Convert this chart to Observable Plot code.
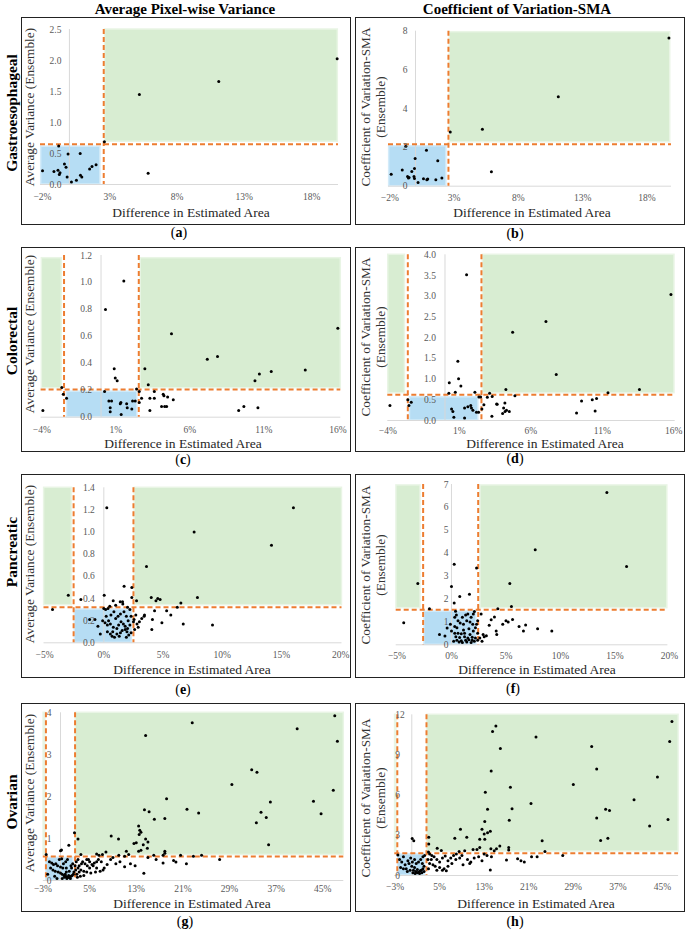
<!DOCTYPE html>
<html><head><meta charset="utf-8">
<script src="https://cdn.jsdelivr.net/npm/d3@7"></script>
<script src="https://cdn.jsdelivr.net/npm/@observablehq/plot@0.6"></script>
<style>
body{margin:0;background:#fff;}
#root{position:relative;width:691px;height:934px;font-family:"Liberation Serif","Times New Roman",serif;color:#000;overflow:hidden;}
.t{position:absolute;white-space:nowrap;transform:translate(-50%,-50%);line-height:1;}
.rot{transform:translate(-50%,-50%) rotate(-90deg);text-align:center;}
.box{position:absolute;border:1.5px solid #222;box-sizing:border-box;pointer-events:none;}
.svgwrap{position:absolute;}
</style></head><body><div id="root"></div>
<script>
// ---- column / row titles ----
const colTitles = ["Average Pixel-wise Variance", "Coefficient of Variation-SMA"];
const rowTitles = ["Gastroesophageal", "Colorectal", "Pancreatic", "Ovarian"];
const yTitleLeft = "Average Variance (Ensemble)";
const yTitleRight = ["Coefficient of Variation-SMA", "(Ensemble)"];
const xTitle = "Difference in Estimated Area";

// ---- tick values ----
const ticksXA = [-2, 3, 8, 13, 18];
const ticksXC = [-4, 1, 6, 11, 16];
const ticksXE = [-5, 0, 5, 10, 15, 20];
const ticksXG = [-3, 5, 13, 21, 29, 37, 45];
const ticksYA = [0, 0.5, 1, 1.5, 2, 2.5];
const ticksYB = [0, 2, 4, 6, 8];
const ticksYC = [0, 0.2, 0.4, 0.6, 0.8, 1.0, 1.2];
const ticksYD = [0, 0.5, 1, 1.5, 2, 2.5, 3, 3.5, 4];
const ticksYE = [0, 0.2, 0.4, 0.6, 0.8, 1.0, 1.2, 1.4];
const ticksYF = [0, 1, 2, 3, 4, 5, 6, 7];
const ticksYG = [0, 1, 2, 3, 4];
const ticksYH = [0, 3, 6, 9, 12];

// ---- thresholds (difference %, uncertainty) ----
const threshA = {x: [2.55], y: 0.65};
const threshB = {x: [2.56], y: 2.17};
const threshC = {x: [-2.5, 2.55], y: 0.205};
const threshD = {x: [-2.6, 2.55], y: 0.62};
const threshE = {x: [-2.55, 2.5], y: 0.32};
const threshF = {x: [-2.6, 2.45], y: 1.53};
const threshG = {x: [-2.5, 2.5], y: 0.57};
const threshH = {x: [-2.6, 2.64], y: 1.66};

// ---- shaded regions [x1, x2, y1, y2] ----
const blueA = [-2.1, 2.3, 0, 0.61];   const greenA = [[2.65, 19.95, 0.69, 2.5]];
const blueB = [-2.05, 2.4, 0, 2.06];  const greenB = [[2.66, 19.8, 2.27, 7.95]];
const blueC = [-2.3, 2.45, 0, 0.19];  const greenC = [[-4.0, -2.65, 0.215, 1.18], [2.67, 16.2, 0.215, 1.18]];
const blueD = [-2.45, 2.33, 0, 0.56]; const greenD = [[-3.97, -2.8, 0.66, 4], [2.65, 16.05, 0.66, 4]];
const blueE = [-2.45, 2.36, 0, 0.30]; const greenE = [[-5.04, -2.7, 0.34, 1.4], [2.6, 20.1, 0.34, 1.4]];
const blueF = [-2.48, 2.27, 0, 1.45]; const greenF = [[-5.05, -2.84, 1.6, 6.96], [2.66, 19.8, 1.6, 6.96]];
const blueG = [-2.45, 2.2, 0, 0.54];  const greenG = [[-2.9, -2.6, 0.61, 4], [2.6, 48.6, 0.61, 4]];
const blueH = [-2.45, 2.35, 0, 1.57]; const greenH = [[-3.0, -2.75, 1.79, 12], [2.76, 47.9, 1.79, 12]];

// ---- data points [difference %, value] ----
const ptsA = [[19.9,2.03],[11.1,1.66],[5.2,1.45],[2.6,0.69],[5.85,0.18],[-0.8,0.62],[-2.0,0.22],[-1.15,0.21],[-0.85,0.23],[-0.7,0.19],[-0.75,0.16],[-0.37,0.33],[-0.25,0.28],[-0.1,0.49],[-0.17,0.12],[0.15,0.04],[0.52,0.07],[0.8,0.50],[0.82,0.15],[0.92,0.12],[1.5,0.25],[1.68,0.29],[1.98,0.32]];
const ptsB = [[19.7,7.65],[11.1,4.62],[5.2,2.94],[2.7,2.80],[5.9,0.74],[-0.75,2.06],[0.85,1.86],[-0.03,1.43],[1.73,1.31],[-1.89,0.62],[-1.03,0.83],[-0.29,0.76],[-0.08,0.91],[-0.62,0.5],[-0.55,0.42],[-0.5,0.45],[-0.12,0.5],[-0.08,0.4],[0.2,0.19],[0.62,0.38],[0.88,0.33],[0.95,0.37],[1.58,0.33],[2.05,0.42]];
const ptsC = [[16.0,0.66],[1.54,1.01],[0.3,0.80],[4.76,0.62],[7.18,0.43],[7.87,0.45],[0.89,0.36],[0.96,0.29],[1.09,0.27],[2.96,0.36],[3.19,0.24],[10.4,0.27],[10.7,0.32],[11.5,0.34],[13.8,0.35],[-2.65,0.22],[-2.55,0.17],[-2.33,0.14],[-3.93,0.05],[0.24,0.19],[0.53,0.12],[0.71,0.12],[0.62,0.07],[0.62,0.04],[1.34,0.11],[1.3,0.10],[1.36,0.02],[1.77,0.07],[1.73,0.10],[2.08,0.06],[2.13,0.12],[2.31,0.12],[2.4,0.21],[2.58,0.19],[2.58,0.11],[2.74,0.14],[3.3,0.14],[3.3,0.05],[3.6,0.19],[3.6,0.14],[4.2,0.17],[4.25,0.16],[4.5,0.15],[4.88,0.13],[4.09,0.08],[4.3,0.08],[4.43,0.08],[9.3,0.05],[9.65,0.08],[10.6,0.07]];
const ptsD = [[15.8,3.04],[1.51,3.52],[7.06,2.39],[4.73,2.13],[7.78,1.11],[0.9,1.43],[0.95,1.01],[0.3,0.91],[1.11,0.83],[0.72,0.68],[0.27,0.66],[2.09,0.68],[3.12,0.66],[4.26,0.75],[11.4,0.67],[13.6,0.75],[2.37,0.57],[2.49,0.57],[2.96,0.56],[3.3,0.58],[4.89,0.6],[-2.6,0.5],[-2.52,0.36],[-2.36,0.44],[-3.85,0.36],[2.72,0.38],[2.58,0.28],[3.61,0.4],[3.65,0.39],[4.19,0.42],[4.1,0.3],[4.3,0.25],[4.5,0.22],[4.2,0.22],[4.03,0.17],[3.28,0.1],[9.55,0.47],[10.3,0.5],[10.6,0.53],[10.5,0.23],[9.2,0.18],[0.46,0.28],[0.55,0.22],[0.62,0.08],[1.37,0.06],[1.37,0.3],[1.6,0.33],[1.8,0.36],[1.95,0.25],[1.85,0.3],[2.2,0.2],[2.35,0.2]];
const ptsE = [[0.25,1.22],[16.0,1.22],[7.62,1.0],[14.15,0.88],[3.6,0.69],[-3.0,0.43],[-4.33,0.30],[-1.94,0.39],[0.03,0.43],[1.71,0.51],[2.36,0.50],[0.79,0.38],[1.38,0.37],[1.58,0.37],[2.36,0.41],[2.76,0.38],[4.0,0.41],[4.4,0.38],[4.55,0.4],[4.75,0.39],[6.5,0.36],[7.9,0.41],[6.2,0.32],[4.28,0.29],[5.3,0.29],[5.65,0.25],[4.1,0.21],[4.9,0.18],[6.7,0.17],[9.17,0.16],[4.05,0.12],[3.43,0.25],
 [-1.2,0.21],[-0.75,0.21],[-0.3,0.08],[0.0,0.31],[0.15,0.3],[0.35,0.31],[0.5,0.33],[-0.1,0.2],[0.1,0.18],[0.3,0.16],[0.55,0.17],[0.3,0.1],[0.55,0.08],[0.7,0.06],[0.9,0.05],[1.1,0.08],[0.8,0.14],[1.1,0.13],[1.0,0.22],[1.2,0.24],[1.4,0.26],[1.45,0.19],[1.65,0.17],[1.8,0.15],[1.3,0.06],[1.4,0.09],[1.55,0.11],[1.8,0.12],[1.95,0.1],[2.05,0.2],[2.0,0.13],[2.1,0.07],[2.2,0.16],[2.2,0.3],[2.0,0.32],[2.5,0.19],[2.55,0.21],[2.8,0.17],[3.0,0.19],[3.2,0.22],[3.4,0.24],[2.6,0.12],[2.9,0.14],[0.6,0.25],[0.85,0.28],[1.7,0.28],[1.9,0.24],[0.2,0.24],[-0.5,0.15],[1.0,0.34],[1.6,0.35],[2.3,0.24],[2.7,0.25],[0.4,0.2],[1.25,0.16],[0.75,0.1],[1.9,0.05],[2.3,0.09]];
const ptsF = [[14.25,6.65],[7.68,4.15],[16.06,3.42],[5.35,2.68],[5.5,1.67],[4.25,1.57],[0.25,3.52],[2.3,3.35],[-3.09,2.68],[0.0,2.55],[0.76,2.11],[1.65,2.21],[0.25,1.82],[-2.02,1.57],[-4.38,0.96],[0.37,1.47],[2.72,1.35],[3.94,1.21],[3.64,1.09],[4.7,0.9],[5.0,1.05],[5.2,1.0],[5.6,1.1],[6.2,0.8],[6.8,0.86],[6.6,0.6],[7.9,0.7],[9.2,0.6],[3.46,0.85],[4.1,0.6],[4.15,0.45],[3.2,0.4],[2.9,0.45],[2.8,0.16],[2.6,0.3],[3.0,0.35],
 [-1.1,0.45],[-0.4,0.73],[-0.1,0.9],[0.3,1.2],[0.45,1.3],[1.0,1.2],[1.3,1.3],[1.5,1.35],[1.8,1.2],[2.0,1.35],[2.1,1.45],[0.8,0.95],[1.1,0.9],[1.4,1.05],[1.7,1.0],[0.3,0.8],[0.5,0.75],[0.3,0.5],[0.6,0.5],[0.9,0.48],[1.2,0.5],[0.4,0.35],[0.75,0.32],[1.2,0.35],[1.5,0.3],[1.9,0.33],[2.2,0.3],[0.5,0.2],[0.9,0.18],[1.3,0.2],[1.6,0.22],[1.9,0.2],[0.2,0.15],[0.7,0.12],[1.0,0.1],[1.4,0.12],[1.8,0.1],[2.1,0.15],[2.4,0.2],[1.1,0.65],[1.6,0.7],[2.0,0.6],[2.3,0.9],[2.4,0.5],[2.2,0.75],[0.0,0.6],[-0.6,0.38],[1.7,0.45],[0.6,1.05],[1.95,0.9],[2.4,1.05]];
const ptsG = [[47.05,3.93],[22.6,3.76],[14.6,3.46],[40.6,3.62],[47.5,3.32],[32.8,2.64],[33.7,2.58],[29.4,2.29],[46.8,2.15],[43.4,1.89],[36.0,1.87],[34.4,1.63],[44.7,1.59],[35.3,1.50],[33.6,1.38],[35.7,0.85],[18.2,1.95],[21.7,1.70],[23.7,1.61],[14.4,1.69],[15.2,1.64],[16.1,1.46],[17.9,1.48],[8.7,1.06],[9.95,0.99],[13.4,1.3],[13.6,1.2],[13.8,1.15],[13.5,1.1],[14.6,0.99],[15.0,0.92],[14.2,0.85],[14.9,0.77],[12.6,0.88],[13.0,0.9],[13.8,0.72],[13.4,0.7],[11.3,0.7],[17.9,0.7],[17.9,0.65],[17.6,0.6],[2.4,1.14],[3.0,0.99],[1.43,0.84],[0.17,0.73],[0.0,0.71],[-2.45,0.62],[7.8,0.68],[7.2,0.62],[6.6,0.6],[6.2,0.63],[10.0,0.6],[11.0,0.58],[11.7,0.62],[16.0,0.6],[16.4,0.5],[15.0,0.55],[20.6,0.6],[19.4,0.48],[19.8,0.44],[17.6,0.42],[21.6,0.4],[22.8,0.58],[24.2,0.6],[27.3,0.5],[14.3,0.17],[12.0,0.4],[12.8,0.35],[10.2,0.45],[9.5,0.4],[11.0,0.33],[7.3,0.25],[6.2,0.3],[5.6,0.35],[8.6,0.5],[9.0,0.55],[4.5,0.5],[3.5,0.62],[5.0,0.45],
 [-1.9,0.45],[-1.5,0.42],[-1.2,0.38],[-0.8,0.4],[-0.5,0.35],[0.0,0.32],[0.4,0.3],[-1.7,0.3],[-1.3,0.25],[-0.9,0.22],[-0.4,0.2],[0.0,0.18],[0.3,0.15],[0.6,0.12],[0.9,0.1],[1.2,0.08],[1.5,0.07],[1.8,0.1],[2.0,0.12],[2.2,0.15],[1.0,0.2],[1.5,0.22],[0.5,0.4],[0.9,0.45],[1.2,0.5],[-0.2,0.5],[0.2,0.52],[0.7,0.08],[1.1,0.05],[1.4,0.12],[1.7,0.05],[0.8,0.15],[2.3,0.2],[2.6,0.25],[3.0,0.3],[3.2,0.35],[3.6,0.4],[3.8,0.45],[4.2,0.4],[4.6,0.35],[5.0,0.3],[5.4,0.38],[5.8,0.42],[6.2,0.45],[2.8,0.15],[3.2,0.2],[3.5,0.25],[4.0,0.22],[4.5,0.2],[5.2,0.18],[6.0,0.2],[6.8,0.22],[7.5,0.3],[8.0,0.38],[2.9,0.08],[3.4,0.1],[4.0,0.12],[2.5,0.35],[2.7,0.45],[3.0,0.5],[4.8,0.5],[6.5,0.5],[7.0,0.45],[1.9,0.3],[2.1,0.4],[-2.2,0.15],[-1.0,0.1],[-0.6,0.05],[0.3,0.05],[1.0,0.3],[1.8,0.35]];
const ptsH = [[46.7,11.5],[46.3,10.0],[15.1,11.17],[14.5,10.75],[22.3,10.35],[15.9,9.48],[32.3,9.63],[33.2,7.96],[14.25,7.81],[44.1,7.36],[29.0,6.79],[17.7,6.59],[13.2,6.22],[21.4,5.37],[39.9,5.65],[13.6,4.95],[18.0,4.98],[34.8,4.95],[35.5,4.85],[33.2,4.3],[46.0,4.18],[17.5,4.13],[13.1,4.03],[42.7,3.7],[12.6,3.45],[13.0,3.1],[13.6,3.2],[14.1,3.3],[8.74,3.46],[7.72,2.78],[9.87,2.86],[12.2,2.7],[13.1,2.7],[33.9,2.61],[35.2,2.78],[23.4,2.59],[23.9,1.79],[27.1,1.49],[21.5,1.4],[22.5,1.4],[17.0,1.15],[19.0,1.25],[19.6,1.1],[20.2,1.0],[14.1,0.42],[0.07,2.76],[0.36,2.6],[3.05,2.86],[3.05,2.36],[4.56,2.04],[5.3,1.87],[14.2,2.0],[14.8,1.85],[15.2,2.0],[15.8,2.2],[17.4,2.1],[17.4,1.9],[11.0,1.95],[11.7,1.95],[12.2,2.1],[8.5,1.8],[9.5,1.85],[13.0,1.6],[13.5,1.5],[14.3,1.4],[-2.5,1.54],
 [3.0,1.75],[3.2,1.6],[3.6,1.5],[4.0,1.4],[4.5,1.2],[5.0,1.0],[5.5,1.3],[6.0,1.45],[6.5,1.1],[7.0,1.3],[7.5,1.5],[8.0,1.6],[3.2,0.9],[3.8,0.8],[4.2,0.7],[5.0,0.6],[5.8,0.5],[6.5,0.7],[7.2,0.9],[7.9,1.2],[9.0,1.5],[10.0,1.2],[10.6,1.0],[11.2,1.3],[12.0,1.4],[12.6,1.1],[10.4,0.9],[9.2,0.8],[5.5,0.4],[4.5,0.4],[6.2,0.35],[3.5,1.2],[2.9,1.2],[3.0,0.5],[8.6,1.3],
 [-2.2,1.2],[-1.8,1.0],[-1.5,1.4],[-1.2,0.8],[-1.0,0.5],[-0.7,1.1],[-0.5,0.9],[-0.2,1.3],[0.0,0.7],[0.3,0.4],[0.5,0.6],[0.7,0.3],[1.0,0.45],[1.2,0.25],[1.5,0.35],[1.8,0.2],[2.0,0.5],[2.2,0.3],[0.2,0.2],[0.6,0.15],[1.0,0.2],[1.4,0.15],[1.7,0.4],[-0.3,0.4],[-0.8,0.3],[0.8,0.9],[1.2,1.0],[1.6,1.2],[2.0,1.4],[2.3,1.5],[0.5,1.2],[-1.5,0.5],[-2.0,0.6],[1.9,0.9],[2.2,0.7],[0.1,1.0]];

// ---- panel layout (page pixels) ----
const panels = [
 {id:"a", box:[21,17,330,208], frame:[40,29,338,184], xd:[-2.15,20], yd:[0,2.5], xt:ticksXA, yt:ticksYA, yf:".1f", yx:0, ya:"end", ydx:-8, tp:9, th:threshA, blue:blueA, green:greenA, pts:ptsA, left:true, yl:[30,107], xl:[191,213], cap:[179,233]},
 {id:"b", box:[355,17,330,208], frame:[388,30.7,671,185.7], xd:[-2.1,19.9], yd:[0,8], xt:ticksXA, yt:ticksYB, yf:"d", yx:0, ya:"end", ydx:-8, tp:8, th:threshB, blue:blueB, green:greenB, pts:ptsB, left:false, yl:[372.5,107], xl:[532,213], cap:[515,234]},
 {id:"c", box:[21,247,330,205], frame:[40.6,255,340.3,416.7], xd:[-4.05,16.2], yd:[0,1.2], xt:ticksXC, yt:ticksYC, yf:".1f", yx:0, ya:"end", ydx:-9, tp:9, th:threshC, blue:blueC, green:greenC, pts:ptsC, left:true, yl:[30,334], xl:[183,444], cap:[183,460]},
 {id:"d", box:[355,247,330,205], frame:[387.3,254.3,674.7,420], xd:[-4,16.1], yd:[0,4], xt:ticksXC, yt:ticksYD, yf:".1f", yx:0, ya:"end", ydx:-9, tp:7, th:threshD, blue:blueD, green:greenD, pts:ptsD, left:false, yl:[372.5,337], xl:[545,444], cap:[515,459]},
 {id:"e", box:[21,474,330,204], frame:[43.5,487.3,341.5,642.3], xd:[-5.05,20.1], yd:[0,1.4], xt:ticksXE, yt:ticksYE, yf:".1f", yx:0, ya:"end", ydx:-9, tp:8, th:threshE, blue:blueE, green:greenE, pts:ptsE, left:true, yl:[30,564], xl:[192,670], cap:[183,690]},
 {id:"f", box:[355,474,330,204], frame:[395.7,484,667.4,644.3], xd:[-5.07,19.85], yd:[0,7], xt:ticksXE, yt:ticksYF, yf:"d", yx:0, ya:"end", ydx:-3, tp:7, th:threshF, blue:blueF, green:greenF, pts:ptsF, left:false, yl:[372.5,565], xl:[537,670], cap:[513,689]},
 {id:"g", box:[21,703,330,209], frame:[42.8,712.3,343.3,880], xd:[-2.95,48.6], yd:[0,4], xt:ticksXG, yt:ticksYG, yf:"d", yx:-2.95, ya:"start", ydx:3.5, tp:5, th:threshG, blue:blueG, green:greenG, pts:ptsG, left:true, yl:[30,793], xl:[192,904], cap:[185,922]},
 {id:"h", box:[355,703,330,209], frame:[394.3,714.3,678.1,875], xd:[-3.05,47.9], yd:[0,12], xt:ticksXG, yt:ticksYH, yf:"d", yx:-3.05, ya:"start", ydx:0.5, tp:8, th:threshH, blue:blueH, green:greenH, pts:ptsH, left:false, yl:[372.5,797.5], xl:[536,904], cap:[515,922]}
];
const rowPos = [113, 341, 552, 802];

const root = document.getElementById("root");
function addText(html, x, y, style, cls) {
  const d = document.createElement("div");
  d.className = "t" + (cls ? " " + cls : "");
  d.innerHTML = html;
  d.style.left = x + "px"; d.style.top = y + "px";
  Object.assign(d.style, style || {});
  root.appendChild(d);
  return d;
}

const orange = "#ED7D31";
const tickColor = "#595959";
const pct = d => (d < 0 ? "\u2212" + (-d) : d) + "%";
const toRect = r => ({x1: r[0], x2: r[1], y1: r[2], y2: r[3]});

for (const p of panels) {
  const [bl, bt, bw, bh] = p.box;
  const [fl, ft, fr, fb] = p.frame;
  const fmt = d3.format(p.yf);
  const svg = Plot.plot({
    width: bw, height: bh,
    marginLeft: fl - bl, marginRight: bl + bw - fr, marginTop: ft - bt, marginBottom: bt + bh - fb,
    x: {domain: p.xd},
    y: {domain: p.yd, axis: null},
    style: {fontFamily: "'Liberation Serif', serif", background: "transparent", overflow: "visible"},
    marks: [
      Plot.rect(p.green.map(toRect), {x1: "x1", x2: "x2", y1: "y1", y2: "y2", fill: "#d8edd2", stroke: "#e9f5e5", strokeWidth: 1.5}),
      Plot.rect([toRect(p.blue)], {x1: "x1", x2: "x2", y1: "y1", y2: "y2", fill: "#b6ddf4", stroke: "#d3ebf9", strokeWidth: 1.5}),
      Plot.ruleX([0], {stroke: "#d9d9d9", strokeWidth: 1}),
      Plot.ruleY([p.yd[0]], {stroke: "#d9d9d9", strokeWidth: 1}),
      Plot.ruleX(p.th.x, {stroke: orange, strokeWidth: 2, strokeDasharray: "5,3"}),
      Plot.ruleY([p.th.y], {stroke: orange, strokeWidth: 2, strokeDasharray: "5,3"}),
      Plot.dot(p.pts, {x: d => d[0], y: d => d[1], r: 1.5, fill: "#000", stroke: null}),
      Plot.axisX(p.xt, {tickSize: 0, tickPadding: p.tp, tickFormat: pct, fontSize: 9.5, fill: tickColor, label: null}),
      Plot.text(p.yt, {x: () => p.yx, y: d => d, text: d => fmt(d), textAnchor: p.ya, dx: p.ydx, fontSize: 9.5, fill: tickColor})
    ]
  });
  const wrap = document.createElement("div");
  wrap.className = "svgwrap";
  wrap.style.left = bl + "px"; wrap.style.top = bt + "px";
  wrap.appendChild(svg);
  root.appendChild(wrap);
  const box = document.createElement("div");
  box.className = "box";
  Object.assign(box.style, {left: bl + "px", top: bt + "px", width: bw + "px", height: bh + "px"});
  root.appendChild(box);

  // axis titles
  if (p.left) {
    addText(yTitleLeft, p.yl[0], p.yl[1], {fontSize: "13.3px", color: "#333"}, "rot");
  } else {
    addText(yTitleRight.join("<br>"), p.yl[0], p.yl[1], {fontSize: "13.3px", color: "#333", lineHeight: "15px"}, "rot");
  }
  addText(xTitle, p.xl[0], p.xl[1], {fontSize: "13.5px", color: "#262626"});
  addText("(<b>" + p.id + "</b>)", p.cap[0], p.cap[1], {fontSize: "14px"});
}

addText(colTitles[0], 185, 9, {fontSize: "15px", fontWeight: "bold"});
addText(colTitles[1], 517, 9, {fontSize: "15px", fontWeight: "bold"});
rowTitles.forEach((t, i) => addText(t, 12, rowPos[i], {fontSize: "15.5px", fontWeight: "bold"}, "rot"));
</script></body></html>
